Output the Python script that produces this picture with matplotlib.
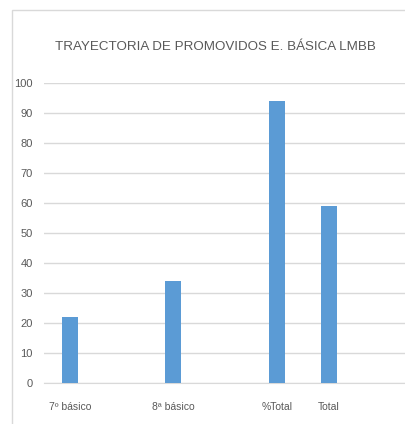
import matplotlib.pyplot as plt
from matplotlib.patches import Rectangle

# datos del grafico
categorias = ['7º básico', '8ª básico', '%Total', 'Total']
valores = [22, 34, 94, 59]
y_ticks = [0, 10, 20, 30, 40, 50, 60, 70, 80, 90, 100]
titulo = 'TRAYECTORIA DE PROMOVIDOS E. BÁSICA LMBB'

# posiciones de las columnas (hay huecos entre categorias)
posiciones = [0, 2, 4, 5]

fuente = ['Liberation Sans', 'DejaVu Sans']
gris = '#595959'

fig = plt.figure(figsize=(4.06, 4.24), dpi=100)
fig.patches.append(Rectangle((12 / 406, -0.1), 1.2, 1 - 10 / 424 + 0.1,
                             transform=fig.transFigure, fill=False,
                             edgecolor='#d9d9d9', linewidth=1))

ax = fig.add_axes([44 / 406, 1 - 383 / 424, 1 - 44 / 406, 300 / 424])
ax.bar(posiciones, valores, width=0.31, color='#5b9bd5', zorder=3)

ax.set_xlim(-0.5, 6.49)
ax.set_ylim(0, 100)
ax.set_yticks(y_ticks)
ax.set_xticks(posiciones)
ax.set_xticklabels(categorias, family=fuente, fontsize=7.5, color=gris)
ax.set_yticklabels(y_ticks, family=fuente, fontsize=8, color=gris)
ax.tick_params(axis='both', length=0)
ax.tick_params(axis='x', pad=14)
ax.tick_params(axis='y', pad=8)
ax.grid(axis='y', color='#d9d9d9', linewidth=1, zorder=0)
for lado in ['top', 'right', 'left']:
    ax.spines[lado].set_visible(False)
ax.spines['bottom'].set_color('#d9d9d9')

fig.text(215 / 406, 1 - 47 / 424, titulo, family=fuente, fontsize=9.6,
         color=gris, ha='center', va='center')

fig.savefig('out.png', dpi=100)
